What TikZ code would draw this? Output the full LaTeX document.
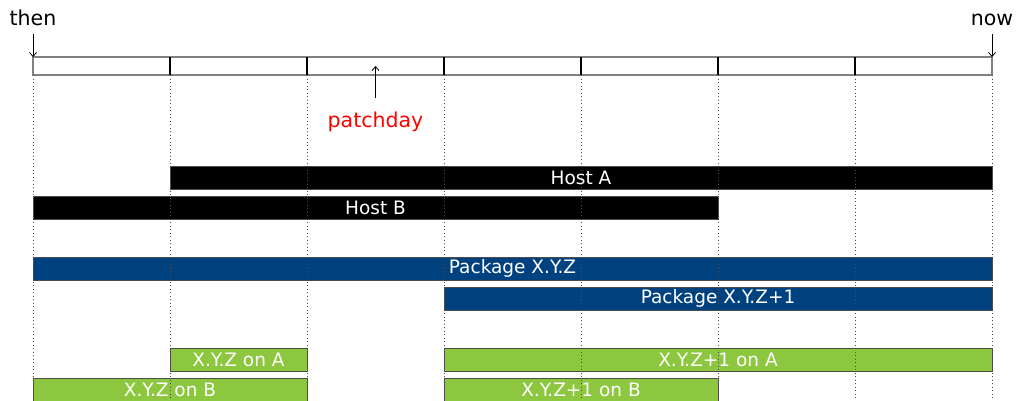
\documentclass[tikz,border=0pt]{standalone}
\usepackage{fontspec}
\setmainfont{DejaVu Sans}
\usetikzlibrary{arrows.meta}
\definecolor{pkgblue}{RGB}{0,66,128}
\definecolor{fixgreen}{RGB}{141,198,63}

\begin{document}
\begin{tikzpicture}[
  x=1pt, y=-1pt,
  bar/.style={rectangle, draw=black!70, line width=0.8pt, minimum height=23pt,
              inner sep=0pt, outer sep=0pt, text=white,
              font=\fontsize{18.5}{20}\selectfont},
  host/.style={bar, fill=black},
  pkg/.style={bar, fill=pkgblue},
  inst/.style={bar, fill=fixgreen},
  lbl/.style={inner sep=0pt, anchor=base, font=\fontsize{20.5}{22}\selectfont},
  tip/.style={-{Straight Barb[length=4pt,width=7pt]}, line width=0.8pt},
  grid/.style={black!70, line width=0.8pt, dash pattern=on 1pt off 2.5pt}
]
  \useasboundingbox (0,0) rectangle (1017,400);
  \def\dx{137}
  % time axis, seven slots from then to now
  \foreach \i in {0,...,7} {
    \coordinate (t\i) at (33+\dx*\i, 57);
    \coordinate (b\i) at (33+\dx*\i, 75);
    \coordinate (e\i) at (33+\dx*\i, 400);
  }
  \draw[gray, line width=1.5pt] (t0) rectangle (b7);
  \foreach \i in {1,...,6} \draw[black, line width=2pt] (t\i) -- (b\i);

  \node[lbl] (then) at (33,25) {then};
  \node[lbl] (now) at (992,25) {now};
  \node[lbl, text=red] (patchday) at (375.5,127) {patchday};
  \coordinate (pd) at (375.5,66);
  \draw[tip, shorten <=9pt] (then.south) -- (t0);
  \draw[tip, shorten <=9pt] (now.south) -- (t7);
  \draw[tip, shorten <=13pt] (patchday.north) -- (pd);

  % hosts, packages and installs (start slot / end slot)
  \foreach \nm/\a/\b/\y/\st/\txt in {
    hostA/1/7/177.5/host/Host A,
    hostB/0/5/207.5/host/Host B,
    pkgOld/0/7/268.5/pkg/Package X.Y.Z,
    pkgNew/3/7/298.5/pkg/Package X.Y.Z+1,
    oldA/1/2/359.5/inst/X.Y.Z on A,
    newA/3/7/359.5/inst/X.Y.Z+1 on A,
    oldB/0/2/389.5/inst/X.Y.Z on B,
    newB/3/5/389.5/inst/X.Y.Z+1 on B}
    \node[\st, minimum width={\dx*(\b-\a)*1pt}] (\nm)
      at ({33+\dx*(\a+\b)/2}, \y) {\txt};

  % slot borders run over everything
  \foreach \i in {0,...,7} \draw[grid] (b\i) -- (e\i);
\end{tikzpicture}
\end{document}
